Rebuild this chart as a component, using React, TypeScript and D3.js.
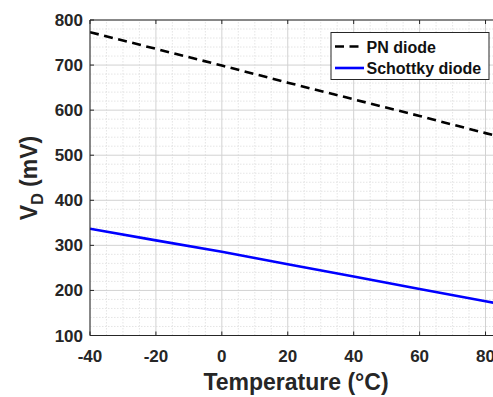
import React from "react";
import * as d3 from "d3";

const temps = [-40, -20, 0, 20, 40, 60, 80, 100];
const pnDiode = [773, 736, 699, 661, 624, 587, 549, 512];
const schottky = [337, 311, 286, 258, 231, 203, 176, 148];
const xTicks = [-40, -20, 0, 20, 40, 60, 80];
const yTicks = [100, 200, 300, 400, 500, 600, 700, 800];
const seriesNames = ["PN diode", "Schottky diode"];

const W = 493;
const H = 397;
const FONT = "'Liberation Sans', Arial, Helvetica, sans-serif";
const INK = "#262626";

const App = () => {
  const svgRef = React.useRef(null);

  React.useEffect(() => {
    const svg = d3.select(svgRef.current);
    svg.selectAll("*").remove();

    const x = d3.scaleLinear().domain([-40, 85]).range([90, 502]);
    const y = d3.scaleLinear().domain([100, 800]).range([335.5, 20]);

    const g = svg.append("g");

    // minor grid
    const minorX = d3.range(-40, 86, 5).filter((v) => v % 20 !== 0);
    const minorY = d3.range(100, 801, 20).filter((v) => v % 100 !== 0);
    g.selectAll(".mx")
      .data(minorX)
      .join("line")
      .attr("x1", (d) => x(d))
      .attr("x2", (d) => x(d))
      .attr("y1", y(100))
      .attr("y2", y(800))
      .attr("stroke", "#dedede")
      .attr("stroke-width", 0.8)
      .attr("stroke-dasharray", "1.5,1.5");
    g.selectAll(".my")
      .data(minorY)
      .join("line")
      .attr("x1", x(-40))
      .attr("x2", x(85))
      .attr("y1", (d) => y(d))
      .attr("y2", (d) => y(d))
      .attr("stroke", "#dedede")
      .attr("stroke-width", 0.8)
      .attr("stroke-dasharray", "1.5,1.5");

    // major grid
    g.selectAll(".gx")
      .data(xTicks)
      .join("line")
      .attr("x1", (d) => x(d))
      .attr("x2", (d) => x(d))
      .attr("y1", y(100))
      .attr("y2", y(800))
      .attr("stroke", "#d2d2d2")
      .attr("stroke-width", 1);
    g.selectAll(".gy")
      .data(yTicks)
      .join("line")
      .attr("x1", x(-40))
      .attr("x2", x(85))
      .attr("y1", (d) => y(d))
      .attr("y2", (d) => y(d))
      .attr("stroke", "#d2d2d2")
      .attr("stroke-width", 1);

    // data lines
    const line = d3
      .line()
      .x((d) => x(d[0]))
      .y((d) => y(d[1]));
    const clip = svg
      .append("clipPath")
      .attr("id", "plotclip")
      .append("rect")
      .attr("x", x(-40))
      .attr("y", y(800))
      .attr("width", x(85) - x(-40))
      .attr("height", y(100) - y(800));
    const lines = svg.append("g").attr("clip-path", "url(#plotclip)");
    lines
      .append("path")
      .attr("d", line(temps.map((t, i) => [t, pnDiode[i]])))
      .attr("fill", "none")
      .attr("stroke", "#000")
      .attr("stroke-width", 2.6)
      .attr("stroke-dasharray", "9,5.5");
    lines
      .append("path")
      .attr("d", line(temps.map((t, i) => [t, schottky[i]])))
      .attr("fill", "none")
      .attr("stroke", "#0000ff")
      .attr("stroke-width", 2.6);

    // axes box and ticks
    const ax = svg.append("g").attr("stroke", INK).attr("stroke-width", 1);
    ax.append("line").attr("x1", x(-40)).attr("x2", x(85)).attr("y1", y(100)).attr("y2", y(100));
    ax.append("line").attr("x1", x(-40)).attr("x2", x(85)).attr("y1", y(800)).attr("y2", y(800));
    ax.append("line").attr("x1", x(-40)).attr("x2", x(-40)).attr("y1", y(100)).attr("y2", y(800));
    ax.append("line").attr("x1", x(85)).attr("x2", x(85)).attr("y1", y(100)).attr("y2", y(800));
    ax.selectAll(".tx")
      .data(xTicks)
      .join("line")
      .attr("x1", (d) => x(d))
      .attr("x2", (d) => x(d))
      .attr("y1", y(100))
      .attr("y2", y(100) - 4);
    ax.selectAll(".tx2")
      .data(xTicks)
      .join("line")
      .attr("x1", (d) => x(d))
      .attr("x2", (d) => x(d))
      .attr("y1", y(800))
      .attr("y2", y(800) + 4);
    ax.selectAll(".ty")
      .data(yTicks)
      .join("line")
      .attr("x1", x(-40))
      .attr("x2", x(-40) + 4)
      .attr("y1", (d) => y(d))
      .attr("y2", (d) => y(d));

    // tick labels
    svg
      .append("g")
      .selectAll("text")
      .data(xTicks)
      .join("text")
      .attr("x", (d) => x(d))
      .attr("y", 362)
      .attr("text-anchor", "middle")
      .attr("font-family", FONT)
      .attr("font-weight", "bold")
      .attr("font-size", 17)
      .attr("fill", INK)
      .text((d) => d);
    svg
      .append("g")
      .selectAll("text")
      .data(yTicks)
      .join("text")
      .attr("x", 83)
      .attr("y", (d) => y(d) + 6)
      .attr("text-anchor", "end")
      .attr("font-family", FONT)
      .attr("font-weight", "bold")
      .attr("font-size", 17)
      .attr("fill", INK)
      .text((d) => d);

    // axis titles
    svg
      .append("text")
      .attr("x", 296)
      .attr("y", 390)
      .attr("text-anchor", "middle")
      .attr("font-family", FONT)
      .attr("font-weight", "bold")
      .attr("font-size", 23)
      .attr("fill", INK)
      .text("Temperature (°C)");
    const yl = svg
      .append("text")
      .attr("transform", "translate(37,178) rotate(-90)")
      .attr("text-anchor", "middle")
      .attr("font-family", FONT)
      .attr("font-weight", "bold")
      .attr("font-size", 23)
      .attr("fill", INK);
    yl.append("tspan").text("V");
    yl.append("tspan").attr("font-size", 16).attr("dy", 6).text("D");
    yl.append("tspan").attr("dy", -6).text(" (mV)");

    // legend
    const lg = svg.append("g");
    lg.append("rect")
      .attr("x", 331)
      .attr("y", 32.5)
      .attr("width", 158)
      .attr("height", 47)
      .attr("fill", "#fff")
      .attr("stroke", INK)
      .attr("stroke-width", 1);
    const rows = [
      { name: seriesNames[0], color: "#000", dash: "9,5.5", cy: 46.5 },
      { name: seriesNames[1], color: "#0000ff", dash: null, cy: 68 },
    ];
    rows.forEach((r) => {
      lg.append("line")
        .attr("x1", 335)
        .attr("x2", 364)
        .attr("y1", r.cy)
        .attr("y2", r.cy)
        .attr("stroke", r.color)
        .attr("stroke-width", 2.6)
        .attr("stroke-dasharray", r.dash);
      lg.append("text")
        .attr("x", 366.5)
        .attr("y", r.cy + 6)
        .attr("font-family", FONT)
        .attr("font-weight", "bold")
        .attr("font-size", 16)
        .attr("fill", "#111")
        .text(r.name);
    });
  }, []);

  return (
    <svg
      ref={svgRef}
      width={W}
      height={H}
      style={{ position: "absolute", left: 0, top: 0, background: "#fff" }}
    />
  );
};

export default App;
